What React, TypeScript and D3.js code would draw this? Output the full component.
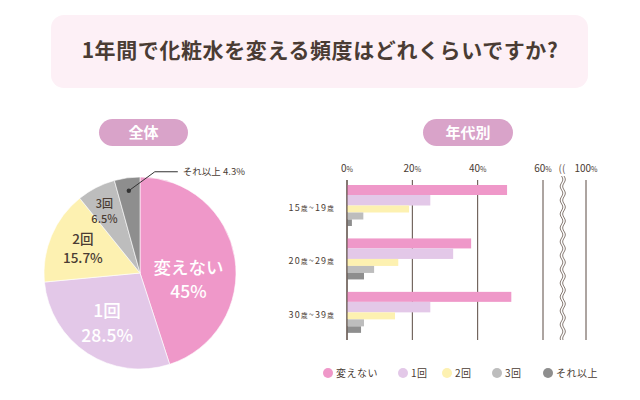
import React from "react";
import * as d3 from "d3";

const categories = ["変えない", "1回", "2回", "3回", "それ以上"];
const overallValues = [45, 28.5, 15.7, 6.5, 4.3];
const ageGroups = [
  { num1: "15", num2: "19" },
  { num1: "20", num2: "29" },
  { num1: "30", num2: "39" },
];
const age15Values = [49, 25.5, 19, 5, 1.5];
const age20Values = [38, 32.5, 15.7, 8.3, 5.2];
const age30Values = [50.3, 25.5, 14.7, 5.2, 4.3];
const xTicks = [0, 20, 40, 60, 100];
const colors = ["#ef98c9", "#e3c8e8", "#fdf1b1", "#bdbdbd", "#8e8e8e"];

const TEXT = "#4a3c34";
const FONT = "'Noto Sans CJK JP', 'Noto Sans', sans-serif";

export default function App() {
  // Pie
  const cx = 140, cy = 273, R = 96;
  const pie = d3.pie<number>().sort(null).value((d) => d)(overallValues);
  const arc = d3.arc<d3.PieArcDatum<number>>().innerRadius(0).outerRadius(R);
  const polar = (angle: number, r: number) => [cx + r * Math.sin(angle), cy - r * Math.cos(angle)];
  const labelCfg = [
    { r: 49, shift: 0.3, size: 17.5, fill: "#fff" },
    { r: 60, shift: 0, size: 17.5, fill: "#fff" },
    { r: 62, shift: 0, size: 13.5, fill: TEXT },
    { r: 71, shift: -0.05, size: 11, fill: TEXT },
  ];

  // Bars
  const x = d3.scaleLinear().domain([0, 60, 100]).range([347, 543, 586]);
  const groupData = [age15Values, age20Values, age30Values];
  const y = d3.scaleBand<number>().domain([0, 1, 2]).range([185, 333]).paddingInner(0.23).paddingOuter(0);
  const barH = [10, 10.5, 7, 7, 6.5];
  const offsets = barH.map((_, i) => d3.sum(barH.slice(0, i)));
  const wave = (x0: number) => {
    const pts: [number, number][] = [];
    for (let yy = 176; yy <= 340; yy += 1) {
      pts.push([x0 + 1.3 * Math.sin((yy - 176) / 2.2), yy]);
    }
    return d3.line()(pts) || "";
  };

  const legendX = [323, 398, 442, 492, 543];

  return (
    <svg width={640} height={400} style={{ position: "absolute", left: 0, top: 0, fontFamily: FONT }}>
      <rect width={640} height={400} fill="#fff" />
      {/* title */}
      <rect x={51} y={15} width={537} height={73} rx={13} fill="#fdf0f6" />
      <text x={320} y={58} textAnchor="middle" fontSize={21} fontWeight={700} fill={TEXT} letterSpacing={0.6}>
        1年間で化粧水を変える頻度はどれくらいですか?
      </text>

      {/* pills */}
      <rect x={99} y={119} width={89} height={27} rx={13.5} fill="#d9a3c9" />
      <text x={143.5} y={138} textAnchor="middle" fontSize={15} fontWeight={700} fill="#fff">全体</text>
      <rect x={423} y={119} width={90} height={27} rx={13.5} fill="#d9a3c9" />
      <text x={468} y={138} textAnchor="middle" fontSize={15} fontWeight={700} fill="#fff">年代別</text>

      {/* pie */}
      <g transform={`translate(${cx},${cy})`}>
        {pie.map((p, i) => (
          <path key={i} d={arc(p) || ""} fill={colors[i]} stroke="#fff" strokeWidth={0.6} />
        ))}
      </g>
      {pie.slice(0, 4).map((p, i) => {
        const c = labelCfg[i];
        const mid = (p.startAngle + p.endAngle) / 2 + c.shift;
        const [lx, ly] = polar(mid, c.r);
        return (
          <g key={i} fontSize={c.size} fill={c.fill} fontWeight={500}>
            <text x={lx} y={ly - c.size * 0.33} textAnchor="middle">{categories[i]}</text>
            <text x={lx} y={ly + c.size * 1.05} textAnchor="middle">{`${overallValues[i]}%`}</text>
          </g>
        );
      })}
      {(() => {
        const p = pie[4];
        const mid = (p.startAngle + p.endAngle) / 2;
        const [dx, dy] = polar(mid, 83);
        const [ex, ey] = [dx + 26, dy - 19];
        return (
          <g>
            <circle cx={dx} cy={dy} r={2.2} fill="#333" />
            <polyline points={`${dx},${dy} ${ex},${ey} ${ex + 23},${ey}`} fill="none" stroke="#333" strokeWidth={1} />
            <text x={ex + 28} y={ey + 3.5} fontSize={9.5} fill={TEXT}>
              {categories[4]} {overallValues[4]}%
            </text>
          </g>
        );
      })()}

      {/* bar chart grid */}
      {xTicks.map((t) => (
        <g key={t}>
          <line x1={x(t)} x2={x(t)} y1={180} y2={340} stroke="#5a4a42" strokeWidth={1} />
          <text x={x(t)} y={172} textAnchor="middle" fontSize={10} fill={TEXT}>
            {t}
            <tspan fontSize={7}>%</tspan>
          </text>
        </g>
      ))}
      <path d={wave(561.5)} fill="none" stroke="#6a5a52" strokeWidth={0.8} />
      <path d={wave(564)} fill="none" stroke="#6a5a52" strokeWidth={0.8} />
      <text x={562} y={172} textAnchor="middle" fontSize={10} fill="#6a5a52">((</text>

      {groupData.map((vals, gi) => (
        <g key={gi}>
          {vals.map((v, si) => (
            <rect
              key={si}
              x={x(0)}
              y={(y(gi) as number) + offsets[si]}
              width={x(v) - x(0)}
              height={barH[si]}
              fill={colors[si]}
            />
          ))}
          <text
            x={335}
            y={(y(gi) as number) + 26}
            textAnchor="end"
            fontSize={9}
            fill={TEXT}
            letterSpacing={1.2}
          >
            {ageGroups[gi].num1}
            <tspan fontSize={6.5}>歳</tspan>~{ageGroups[gi].num2}
            <tspan fontSize={6.5}>歳</tspan>
          </text>
        </g>
      ))}
      <line x1={x(0)} x2={x(0)} y1={180} y2={340} stroke="#5a4a42" strokeWidth={1} />

      {/* legend */}
      {categories.map((c, i) => (
        <g key={c}>
          <circle cx={legendX[i] + 5} cy={373} r={5} fill={colors[i]} />
          <text x={legendX[i] + 13} y={376.5} fontSize={10} fill={TEXT} letterSpacing={0.5}>
            {c}
          </text>
        </g>
      ))}
    </svg>
  );
}
